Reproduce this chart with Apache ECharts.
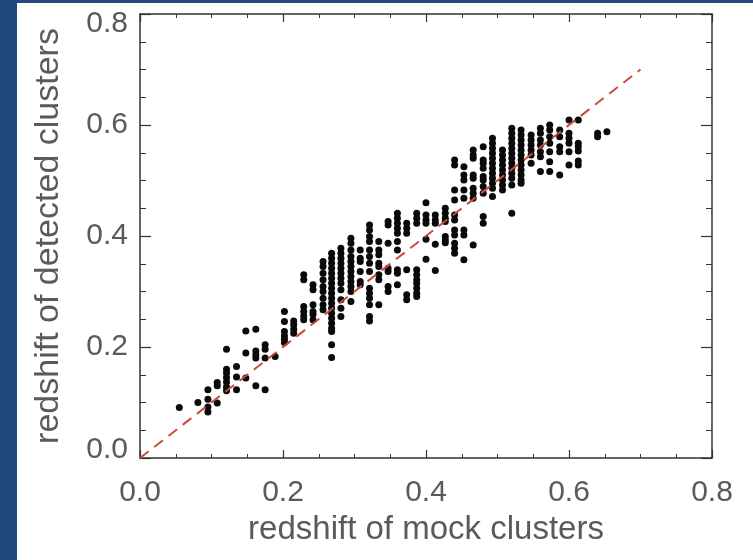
<!DOCTYPE html>
<html>
<head>
<meta charset="utf-8">
<script src="https://cdn.jsdelivr.net/npm/echarts@6/dist/echarts.min.js"></script>
<style>
  html, body { margin: 0; padding: 0; background: #ffffff; }
  #chart { width: 753px; height: 560px; }
</style>
</head>
<body>
<div id="chart"></div>
<script>
// Mock-cluster redshift bins (x) and the detected redshifts found in each bin (y)
const mockZ = [
  0.055, 0.081, 0.095, 0.108, 0.121, 0.135, 0.148, 0.162, 0.175, 0.189,
  0.202, 0.215, 0.229, 0.242, 0.256, 0.268, 0.281, 0.295, 0.308, 0.321,
  0.334, 0.347, 0.360, 0.373, 0.387, 0.400, 0.413, 0.427, 0.440, 0.453,
  0.466, 0.480, 0.493, 0.507, 0.520, 0.533, 0.547, 0.560, 0.573, 0.587,
  0.600, 0.613, 0.640, 0.653
];

const detectedZ = [
  [0.091],
  [0.100],
  [0.123, 0.106, 0.092, 0.083],
  [0.136, 0.130, 0.099],
  [0.196, 0.160, 0.153, 0.145, 0.137, 0.128, 0.121],
  [0.165, 0.146, 0.123],
  [0.229, 0.189, 0.144],
  [0.232, 0.193, 0.186, 0.180, 0.130],
  [0.204, 0.196, 0.180, 0.123],
  [0.183],
  [0.264, 0.246, 0.228, 0.220, 0.214, 0.208],
  [0.247, 0.240, 0.232, 0.225],
  [0.330, 0.321, 0.273, 0.264, 0.256, 0.249],
  [0.312, 0.303, 0.276, 0.264, 0.259, 0.249],
  [0.354, 0.345, 0.333, 0.321, 0.309, 0.300, 0.288, 0.276, 0.267],
  [0.369, 0.360, 0.351, 0.342, 0.333, 0.324, 0.315, 0.306, 0.297, 0.288,
   0.279, 0.270, 0.261, 0.252, 0.243, 0.234, 0.228, 0.204, 0.181],
  [0.378, 0.369, 0.360, 0.351, 0.342, 0.333, 0.324, 0.315, 0.303, 0.285,
   0.270, 0.255],
  [0.396, 0.387, 0.375, 0.363, 0.354, 0.345, 0.336, 0.327, 0.318, 0.309,
   0.300, 0.282],
  [0.375, 0.360, 0.354, 0.336, 0.318, 0.312],
  [0.420, 0.411, 0.399, 0.390, 0.375, 0.363, 0.351, 0.336, 0.306, 0.297,
   0.288, 0.276, 0.255, 0.247],
  [0.390, 0.375, 0.366, 0.351, 0.345, 0.330, 0.321, 0.276],
  [0.426, 0.420, 0.387, 0.342, 0.336, 0.309, 0.300],
  [0.441, 0.432, 0.423, 0.414, 0.405, 0.390, 0.375, 0.339, 0.333, 0.312],
  [0.423, 0.414, 0.405, 0.339, 0.294, 0.285],
  [0.441, 0.432, 0.423, 0.339, 0.330, 0.321, 0.315, 0.306, 0.297, 0.291],
  [0.460, 0.438, 0.429, 0.423, 0.394, 0.358],
  [0.438, 0.429, 0.423, 0.385, 0.338],
  [0.450, 0.441, 0.432, 0.426, 0.399, 0.393, 0.388],
  [0.537, 0.528, 0.483, 0.465, 0.438, 0.429, 0.411, 0.402, 0.387, 0.378, 0.369],
  [0.525, 0.510, 0.501, 0.483, 0.468, 0.411, 0.402, 0.357],
  [0.555, 0.546, 0.540, 0.510, 0.504, 0.486, 0.477, 0.468, 0.384],
  [0.561, 0.537, 0.531, 0.522, 0.507, 0.501, 0.489, 0.477, 0.435, 0.423],
  [0.576, 0.567, 0.558, 0.549, 0.540, 0.531, 0.522, 0.513, 0.504, 0.495,
   0.486, 0.471],
  [0.555, 0.546, 0.537, 0.528, 0.519, 0.510, 0.501, 0.492, 0.483],
  [0.594, 0.585, 0.576, 0.567, 0.558, 0.549, 0.540, 0.531, 0.522, 0.513,
   0.504, 0.492, 0.441],
  [0.591, 0.582, 0.573, 0.564, 0.555, 0.546, 0.537, 0.528, 0.519, 0.510,
   0.501, 0.495],
  [0.582, 0.573, 0.564, 0.555, 0.546, 0.531],
  [0.594, 0.585, 0.573, 0.564, 0.552, 0.543, 0.516],
  [0.600, 0.591, 0.579, 0.567, 0.552, 0.534, 0.516],
  [0.591, 0.579, 0.561, 0.552, 0.510],
  [0.609, 0.585, 0.576, 0.567, 0.552, 0.528],
  [0.609, 0.567, 0.561, 0.553, 0.535, 0.528],
  [0.585, 0.579],
  [0.588]
];

// One-to-one reference line
const identityLine = [[0.0, 0.0], [0.7, 0.7]];

const xTitle = 'redshift of mock clusters';
const yTitle = 'redshift of detected clusters';

const points = [];
mockZ.forEach((zx, i) => {
  detectedZ[i].forEach(zy => points.push([zx, zy]));
});

const textGrey = '#5a5a5a';
const FONT = 'Liberation Sans';
const tickFont = { fontFamily: FONT, fontSize: 30, color: textGrey };
const frameLine = { show: true, onZero: false, lineStyle: { color: '#333333', width: 1.5 } };

// End labels of the vertical axis sit just inside the frame
const yLabelFmt = v => {
  const s = v.toFixed(1);
  if (Math.abs(v - 0.8) < 1e-9) return '{hi|' + s + '}';
  if (Math.abs(v) < 1e-9) return '{lo|' + s + '}';
  return '{n|' + s + '}';
};

function xAx(pos, showLabels) {
  return {
    type: 'value', position: pos, min: 0, max: 0.8, interval: 0.2,
    axisLine: frameLine,
    axisTick: { show: true, inside: true, length: 8, lineStyle: { color: '#333333', width: 1.2 } },
    minorTick: { show: true, splitNumber: 4, length: 4, lineStyle: { color: '#333333', width: 1 } },
    splitLine: { show: false },
    axisLabel: showLabels
      ? Object.assign({ margin: 20, formatter: v => v.toFixed(1) }, tickFont)
      : { show: false },
    name: showLabels ? xTitle : '',
    nameLocation: 'middle',
    nameGap: 55,
    nameTextStyle: { fontFamily: FONT, fontSize: 33, color: textGrey }
  };
}

function yAx(pos, showLabels) {
  return {
    type: 'value', position: pos, min: 0, max: 0.8, interval: 0.2,
    axisLine: frameLine,
    axisTick: { show: true, inside: true, length: 11, lineStyle: { color: '#333333', width: 1.2 } },
    minorTick: { show: true, splitNumber: 4, length: 6, lineStyle: { color: '#333333', width: 1 } },
    splitLine: { show: false },
    axisLabel: showLabels
      ? Object.assign({
          margin: 12,
          formatter: yLabelFmt,
          rich: {
            n: Object.assign({}, tickFont),
            hi: Object.assign({ padding: [20, 0, 0, 0] }, tickFont),
            lo: Object.assign({ padding: [0, 0, 16, 0] }, tickFont)
          }
        }, tickFont)
      : { show: false },
    name: showLabels ? yTitle : '',
    nameLocation: 'middle',
    nameGap: 74,
    nameTextStyle: { fontFamily: FONT, fontSize: 34, color: textGrey }
  };
}

const chart = echarts.init(document.getElementById('chart'), null, { renderer: 'canvas' });
chart.setOption({
  backgroundColor: '#ffffff',
  animation: false,
  grid: { left: 140, top: 14, right: 41, bottom: 102 },
  xAxis: [xAx('bottom', true), xAx('top', false)],
  yAxis: [yAx('left', true), yAx('right', false)],
  graphic: [
    { type: 'rect', left: 0, top: 0, shape: { width: 17, height: 560 }, style: { fill: '#1e4a7c' }, z: 10 },
    { type: 'rect', left: 0, top: 0, shape: { width: 753, height: 3 }, style: { fill: '#1e4a7c' }, z: 10 }
  ],
  series: [
    {
      type: 'scatter',
      data: points,
      symbol: 'circle',
      symbolSize: 7,
      itemStyle: { color: '#0a0a0a', opacity: 1 },
      z: 2
    },
    {
      type: 'line',
      data: identityLine,
      symbol: 'none',
      lineStyle: { color: '#cc4a3c', width: 2, type: [11, 7] },
      z: 3
    }
  ]
});
</script>
</body>
</html>
